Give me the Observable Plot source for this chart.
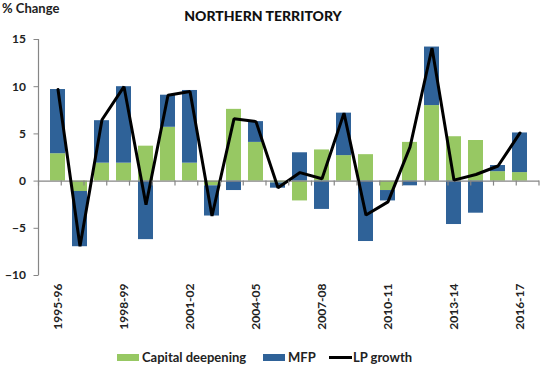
<!DOCTYPE html>
<html>
<head>
<meta charset="utf-8">
<script src="https://cdn.jsdelivr.net/npm/d3@7"></script>
<script src="https://cdn.jsdelivr.net/npm/@observablehq/plot@0.6"></script>
<style>
  body { margin: 0; background: #fff; font-family: Lato, "Open Sans", sans-serif; }
  #wrap { position: relative; width: 543px; height: 369px; overflow: hidden; }
  #header { position: relative; height: 26px; }
  #ylabel { position: absolute; left: 2px; top: 0px; font-weight: bold; font-size: 13px; color: #222; }
  #title { position: absolute; left: 263px; top: 7px; transform: translateX(-50%); font-weight: 900; font-size: 14px; color: #111; white-space: nowrap; }
  #legend { position: relative; height: 25px; font-weight: bold; font-size: 13px; color: #222; }
  .item { position: absolute; top: 5px; display: flex; align-items: center; white-space: nowrap; }
  .sw { width: 22px; height: 7px; margin-right: 3px; }
  .ln { width: 23px; height: 3px; background: #000; margin-right: 1px; }
</style>
</head>
<body>
<div id="wrap">
  <div id="header"><div id="ylabel">% Change</div><div id="title">NORTHERN TERRITORY</div></div>
  <div id="chart"></div>
  <div id="legend"></div>
</div>
<script>
const years = ["1995-96","1996-97","1997-98","1998-99","1999-00","2000-01","2001-02","2002-03","2003-04","2004-05","2005-06","2006-07","2007-08","2008-09","2009-10","2010-11","2011-12","2012-13","2013-14","2014-15","2015-16","2016-17"];
const capitalDeepening = [2.9, -1.1, 1.9, 1.9, 3.7, 5.7, 1.9, -0.5, 7.6, 4.1, -0.2, -2.1, 3.3, 2.7, 2.8, -1.0, 4.1, 8.0, 4.7, 4.3, 1.0, 0.9];
const mfp = [6.8, -5.85, 4.5, 8.1, -6.2, 3.4, 7.7, -3.2, -1.0, 2.2, -0.55, 3.0, -3.0, 4.5, -6.4, -1.1, -0.5, 6.2, -4.6, -3.4, 0.65, 4.2];
const lpGrowth = [9.7, -6.9, 6.5, 10.0, -2.5, 9.1, 9.5, -3.7, 6.6, 6.3, -0.7, 0.9, 0.25, 7.2, -3.6, -2.2, 3.6, 14.1, 0.1, 0.7, 1.6, 5.1];
const yTicks = [-10, -5, 0, 5, 10, 15];
const xTickLabels = ["1995-96","1998-99","2001-02","2004-05","2007-08","2010-11","2013-14","2016-17"];
const seriesNames = ["Capital deepening", "MFP"];
const seriesColors = ["#97C863", "#2F6298"];

const bars = [];
years.forEach((y, i) => {
  bars.push({year: y, series: seriesNames[0], value: capitalDeepening[i]});
  bars.push({year: y, series: seriesNames[1], value: mfp[i]});
});
const lp = years.map((y, i) => ({year: y, value: lpGrowth[i]}));

const axisColor = "#868686";
const plot = Plot.plot({
  width: 543,
  height: 318,
  marginTop: 13,
  marginBottom: 69,
  marginLeft: 38.5,
  marginRight: 4,
  style: {fontFamily: "Lato, 'Open Sans', sans-serif", fontSize: "12px", color: "#222", background: "#fff"},
  x: {domain: years, padding: 0.34, axis: null},
  y: {domain: [-10, 15], axis: null},
  color: {domain: seriesNames, range: seriesColors},
  marks: [
    Plot.axisY({ticks: yTicks, tickSize: 5, tickPadding: 8, stroke: axisColor, fontWeight: "bold", fontSize: 12, label: null}),
    Plot.axisX({ticks: xTickLabels, tickSize: 0, tickPadding: 8, tickRotate: -90, fontWeight: "bold", fontSize: 12, label: null}),
    Plot.barY(bars, {x: "year", y: "value", fill: "series"}),
    Plot.ruleY([0], {stroke: axisColor, strokeWidth: 1.2}),
    Plot.lineY(lp, {x: "year", y: "value", stroke: "#000", strokeWidth: 3, strokeLinejoin: "miter"})
  ]
});

// axis line and category boundary ticks, positioned through the plot's scales
const xs = plot.scale("x"), ys = plot.scale("y");
const svg = d3.select(plot);
const [r0, r1] = xs.range;
const step = (r1 - r0) / years.length;
svg.append("line").attr("x1", r0).attr("x2", r0)
  .attr("y1", ys.apply(15)).attr("y2", ys.apply(-10))
  .attr("stroke", axisColor).attr("stroke-width", 1.2);
for (let i = 0; i <= years.length; i++) {
  const bx = r0 + i * step;
  svg.append("line").attr("x1", bx).attr("x2", bx)
    .attr("y1", ys.apply(0)).attr("y2", ys.apply(0) + 5)
    .attr("stroke", axisColor).attr("stroke-width", 1.2);
}
document.getElementById("chart").appendChild(plot);

// legend
const legend = document.getElementById("legend");
const items = [
  {label: seriesNames[0], kind: "sw", color: seriesColors[0], left: 117},
  {label: seriesNames[1], kind: "sw", color: seriesColors[1], left: 263},
  {label: "LP growth", kind: "ln", color: "#000", left: 329}
];
items.forEach(it => {
  const d = document.createElement("div");
  d.className = "item";
  d.style.left = it.left + "px";
  const s = document.createElement("div");
  s.className = it.kind;
  s.style.background = it.color;
  d.appendChild(s);
  d.appendChild(document.createTextNode(it.label));
  legend.appendChild(d);
});
</script>
</body>
</html>
